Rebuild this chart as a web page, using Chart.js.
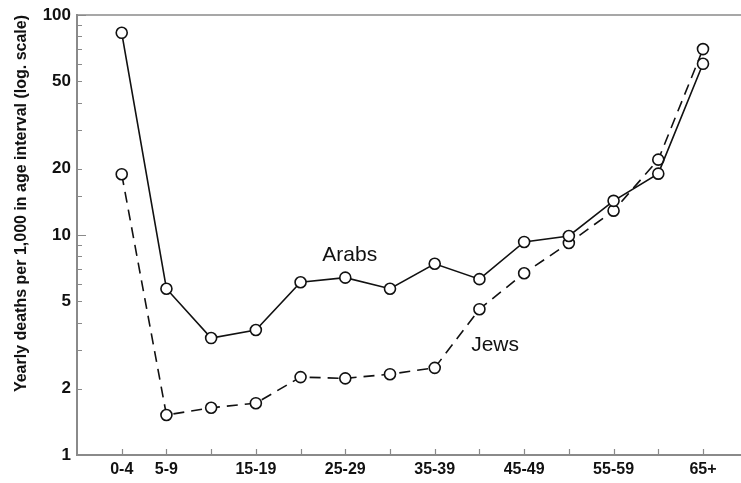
<!DOCTYPE html>
<html>
<head>
<meta charset="utf-8">
<script src="https://cdn.jsdelivr.net/npm/chart.js@4.4.1/dist/chart.umd.min.js"></script>
<style>
    html, body { margin: 0; padding: 0; background: #fff; }
    #wrap { width: 741px; height: 483px; }
</style>
</head>
<body>
<div id="wrap"><canvas id="chart" width="741" height="483"></canvas></div>
<script>
// age groups, one point per group
const ageGroups = ["0-4", "5-9", "10-14", "15-19", "20-24", "25-29", "30-34",
    "35-39", "40-44", "45-49", "50-54", "55-59", "60-64", "65+"];
// only some groups carry a label under the axis
const ageTickLabels = ["0-4", "5-9", "", "15-19", "", "25-29", "",
    "35-39", "", "45-49", "", "55-59", "", "65+"];

const arabDeaths = [83, 5.7, 3.4, 3.7, 6.1, 6.4, 5.7, 7.4, 6.3, 9.3, 9.9, 14.3, 19, 60];
const jewDeaths = [18.9, 1.52, 1.64, 1.72, 2.26, 2.23, 2.33, 2.49, 4.6, 6.7, 9.2, 12.9, 22, 70];

const yTickLabels = [1, 2, 5, 10, 20, 50, 100];

// series names written next to the lines: [text, age index, value]
const seriesNotes = [
    ["Arabs", 5.1, 8.1],
    ["Jews", 8.35, 3.15],
];

const FONT = "'Liberation Sans', Arial, sans-serif";
const AXIS_COLOR = "#8a8a8a";

function toPoints(values) {
    return values.map((v, i) => ({ x: i, y: v }));
}

// inward tick marks, top frame line and series names
const frameAndNotesPlugin = {
    id: "frameAndNotes",
    afterDraw: (chart) => {
        const ctx = chart.ctx;
        const area = chart.chartArea;
        const xScale = chart.scales.x;
        const yScale = chart.scales.y;

        ctx.save();
        ctx.strokeStyle = AXIS_COLOR;
        ctx.lineWidth = 1.5;

        // top line of the frame
        ctx.beginPath();
        ctx.moveTo(area.left, area.top);
        ctx.lineTo(chart.width, area.top);
        ctx.stroke();

        ctx.lineWidth = 1.2;
        ctx.beginPath();
        yScale.ticks.forEach((tick) => {
            const y = Math.round(yScale.getPixelForValue(tick.value)) + 0.5;
            const isDecade = Math.abs(Math.log10(tick.value) % 1) < 1e-6;
            ctx.moveTo(area.left, y);
            ctx.lineTo(area.left + (isDecade ? 9 : 5), y);
        });
        xScale.ticks.forEach((tick) => {
            const x = Math.round(xScale.getPixelForValue(tick.value)) + 0.5;
            ctx.moveTo(x, area.bottom);
            ctx.lineTo(x, area.bottom - 6);
        });
        ctx.stroke();

        ctx.fillStyle = "#111";
        ctx.font = "21px " + FONT;
        ctx.textAlign = "center";
        ctx.textBaseline = "middle";
        seriesNotes.forEach(([text, xv, yv]) => {
            ctx.fillText(text, xScale.getPixelForValue(xv), yScale.getPixelForValue(yv));
        });
        ctx.restore();
    },
};

const ctx = document.getElementById("chart").getContext("2d");

new Chart(ctx, {
    type: "line",
    data: {
        datasets: [
            {
                label: "Arabs",
                data: toPoints(arabDeaths),
                borderColor: "#111",
                borderWidth: 1.6,
                pointRadius: 5.5,
                pointBorderWidth: 1.6,
                pointBorderColor: "#111",
                pointBackgroundColor: "#fff",
                tension: 0,
            },
            {
                label: "Jews",
                data: toPoints(jewDeaths),
                borderColor: "#111",
                borderWidth: 1.6,
                borderDash: [11, 7],
                pointRadius: 5.5,
                pointBorderWidth: 1.6,
                pointBorderColor: "#111",
                pointBackgroundColor: "#fff",
                tension: 0,
            },
        ],
    },
    options: {
        responsive: false,
        animation: false,
        devicePixelRatio: 1,
        layout: {
            autoPadding: false,
            padding: { top: 15, right: 0, left: 0, bottom: 0 },
        },
        plugins: {
            legend: { display: false },
            tooltip: { enabled: false },
        },
        scales: {
            x: {
                type: "linear",
                min: -1,
                max: 13.85,
                afterBuildTicks: (scale) => {
                    scale.ticks = ageGroups.map((_, i) => ({ value: i }));
                },
                afterFit: (scale) => {
                    scale.height = 28;
                    scale.paddingLeft = 0;
                    scale.paddingRight = 0;
                },
                grid: { display: false, drawTicks: false },
                border: { display: true, color: AXIS_COLOR, width: 2 },
                ticks: {
                    autoSkip: false,
                    maxRotation: 0,
                    padding: 5,
                    color: "#111",
                    font: { family: FONT, size: 16, weight: "bold" },
                    callback: (value) => ageTickLabels[value] || "",
                },
            },
            y: {
                type: "logarithmic",
                min: 1,
                max: 100,
                afterFit: (scale) => {
                    scale.width = 77;
                    scale.paddingTop = 0;
                    scale.paddingBottom = 0;
                },
                grid: { display: false, drawTicks: false },
                border: { display: true, color: AXIS_COLOR, width: 2 },
                title: {
                    display: true,
                    text: "Yearly deaths per 1,000 in age interval (log. scale)",
                    align: "end",
                    color: "#111",
                    font: { family: FONT, size: 16, weight: "bold" },
                    padding: { top: 12, bottom: 0 },
                },
                ticks: {
                    autoSkip: false,
                    padding: 6,
                    color: "#111",
                    font: { family: FONT, size: 17, weight: "bold" },
                    callback: (value) => (yTickLabels.includes(value) ? String(value) : ""),
                },
            },
        },
    },
    plugins: [frameAndNotesPlugin],
});
</script>
</body>
</html>
